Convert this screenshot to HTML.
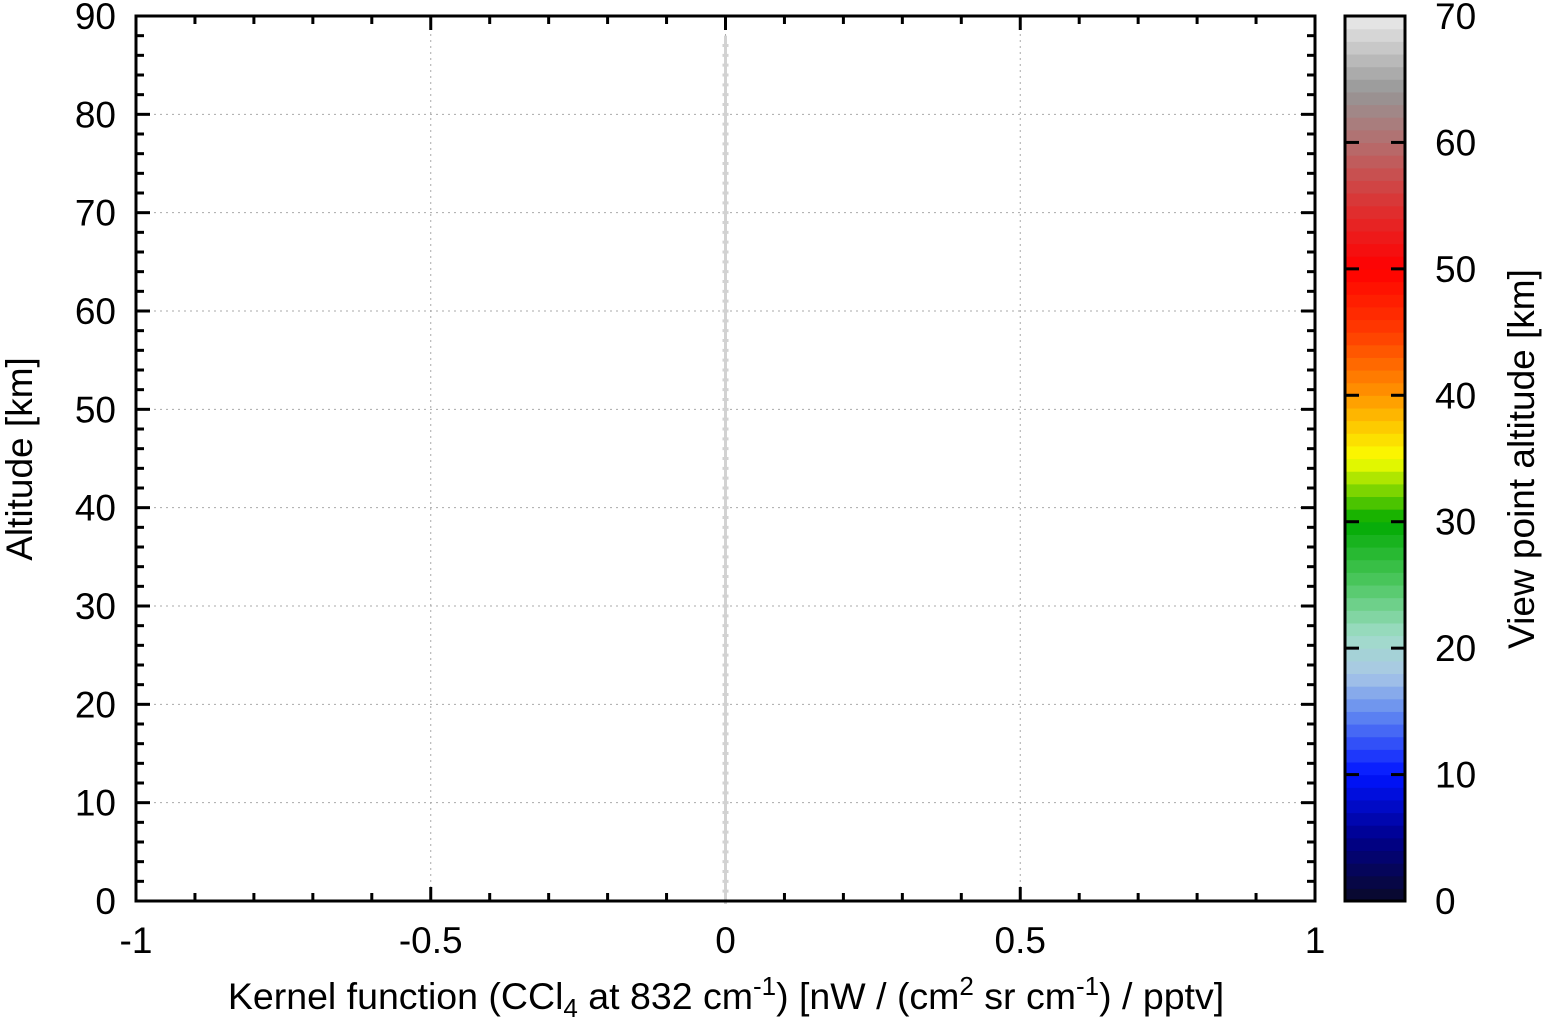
<!DOCTYPE html>
<html><head><meta charset="utf-8"><style>
body{margin:0;background:#fff}
svg{display:block;font-family:"Liberation Sans",sans-serif}
</style></head><body>
<svg id="c" width="1546" height="1022" xmlns="http://www.w3.org/2000/svg"></svg>
<script>
const altitudes=[0,2,4,6,8,10,12,14,16,18,20,22,24,26,28,30,32,34,36,38,40,42,44,46,48,50,52,54,56,58,60,62,64,66,68,70,72,74,76,78,80,82,84,86,88];
const kernelValues=altitudes.map(()=>0);
const viewAltitude=70;
const xTicks=[-1,-0.5,0,0.5,1];
const xTickLabels=["-1","-0.5","0","0.5","1"];
const yTicks=[0,10,20,30,40,50,60,70,80,90];
const cbTicks=[0,10,20,30,40,50,60,70];
const cbStops=[[0,[10,10,40]],[5,[0,0,140]],[10,[0,20,255]],[15,[100,140,240]],[18,[170,200,230]],[21,[160,220,200]],[25,[80,200,100]],[30,[0,170,0]],[35,[250,255,0]],[40,[255,150,0]],[45,[255,60,0]],[50,[255,0,0]],[55,[220,50,50]],[60,[180,110,110]],[64,[150,150,150]],[70,[235,235,235]]];
const svg=document.getElementById('c');const NS='http://www.w3.org/2000/svg';
const L=136,R=1315,T=16,B=901,CL=1345,CR=1405;
const X=v=>L+(v+1)/2*(R-L), Y=v=>B-v/90*(B-T), CY=v=>B-v/70*(B-T);
function el(t,a,p){const e=document.createElementNS(NS,t);for(const k in a)e.setAttribute(k,a[k]);(p||svg).appendChild(e);return e;}
function col(v){for(let i=1;i<cbStops.length;i++){const[a,ca]=cbStops[i-1],[b,cb]=cbStops[i];if(v<=b){const f=(v-a)/(b-a);return 'rgb('+ca.map((c,j)=>Math.round(c+(cb[j]-c)*f)).join(',')+')';}}return 'rgb(235,235,235)';}
function pointCol(v){return v>=66?'#d2d2d2':col(v);}
xTicks.forEach(v=>{if(v>-1&&v<1){const g=el('line',{x1:X(v),x2:X(v),y1:T,y2:B,stroke:'#aaa','stroke-width':1,'stroke-dasharray':'2,4'});}});
yTicks.forEach(v=>{if(v>0&&v<90){const g=el('line',{x1:L,x2:R,y1:Y(v),y2:Y(v),stroke:'#aaa','stroke-width':1,'stroke-dasharray':'2,4'});}});
for(let i=0;i<=20;i++){const v=-1+i*0.1,len=(i%5==0)?14:8;[[B,B-len],[T,T+len]].forEach(([a,b])=>{const t=el('line',{x1:X(v),x2:X(v),y1:a,y2:b,stroke:'#000','stroke-width':3});});}
for(let v=0;v<=90;v+=2){const len=(v%10==0)?14:8;[[L,L+len],[R,R-len]].forEach(([a,b])=>{const t=el('line',{x1:a,x2:b,y1:Y(v),y2:Y(v),stroke:'#000','stroke-width':3});});}
const g=el('g',{});
const c=pointCol(viewAltitude);
altitudes.forEach((a,i)=>{
if(i>0){const ln=el('line',{x1:X(kernelValues[i-1]),x2:X(kernelValues[i]),y1:Y(altitudes[i-1]),y2:Y(a),stroke:c,'stroke-width':3},g);}
for(let k=0;k<2;k++){const yy=Y(a+k);if(yy<T+20)continue;const x=X(kernelValues[i]);
const p=el('path',{d:`M${x-3},${yy}h6M${x},${yy-3}v6`,stroke:c,'stroke-width':3},g);}});
const fr=el('rect',{x:L,y:T,width:R-L,height:B-T,fill:'none',stroke:'#000','stroke-width':3});
xTicks.forEach((v,i)=>{const t=el('text',{x:X(v),y:953,'font-size':37,'text-anchor':'middle'});t.textContent=xTickLabels[i];});
yTicks.forEach(v=>{const t=el('text',{x:116,y:Y(v)+13,'font-size':37,'text-anchor':'end'});t.textContent=v;});
const cb=el('g',{});
for(let v=0;v<70;v++){el('rect',{x:CL,y:CY(v+1),width:CR-CL,height:CY(v)-CY(v+1)+0.6,fill:col(v+0.5)},cb);}
el('rect',{x:CL,y:T,width:CR-CL,height:B-T,fill:'none',stroke:'#000','stroke-width':3},cb);
cbTicks.forEach(v=>{if(v>0&&v<70){el('line',{x1:CL,x2:CL+14,y1:CY(v),y2:CY(v),stroke:'#000','stroke-width':3},cb);el('line',{x1:CR-14,x2:CR,y1:CY(v),y2:CY(v),stroke:'#000','stroke-width':3},cb);}
const t=el('text',{x:1435,y:CY(v)+13,'font-size':37},cb);t.textContent=v;});
</script>
<svg style="position:absolute;left:0;top:0" width="1546" height="1022" xmlns="http://www.w3.org/2000/svg" font-family="Liberation Sans, sans-serif">
<text x="726" y="1009" font-size="37.5" text-anchor="middle">Kernel function (CCl<tspan font-size="26" dy="8">4</tspan><tspan dy="-8"> at 832 cm</tspan><tspan font-size="26" dy="-14">-1</tspan><tspan dy="14">) [nW / (cm</tspan><tspan font-size="26" dy="-14">2</tspan><tspan dy="14"> sr cm</tspan><tspan font-size="26" dy="-14">-1</tspan><tspan dy="14">) / pptv]</tspan></text>
<text transform="translate(32,459) rotate(-90)" font-size="37" text-anchor="middle">Altitude [km]</text>
<text transform="translate(1534,459) rotate(-90)" font-size="37" text-anchor="middle">View point altitude [km]</text>
</svg>
</body></html>
